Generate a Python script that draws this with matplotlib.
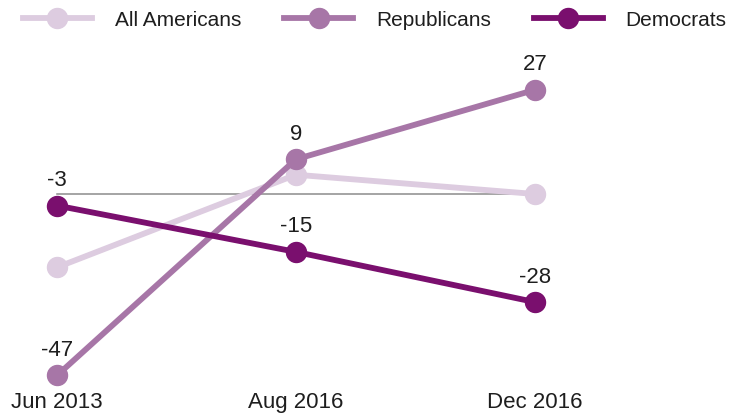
import matplotlib.pyplot as plt

plt.rcParams['font.family'] = ['Liberation Sans', 'DejaVu Sans']

# data
dates = ['Jun 2013', 'Aug 2016', 'Dec 2016']
all_americans = [-19, 5, 0]
republicans = [-47, 9, 27]
democrats = [-3, -15, -28]

series = [
    ('All Americans', all_americans, '#ddcce0', False),
    ('Republicans', republicans, '#a776a7', True),
    ('Democrats', democrats, '#7a0f6e', True),
]

fig = plt.figure(figsize=(7.46, 4.15), dpi=100)
ax = fig.add_axes([0, 0.065, 1, 0.935])

x = list(range(len(dates)))

# zero reference line
ax.plot([x[0], x[-1]], [0, 0], color='#8c8c8c', lw=1.1, zorder=1)

for i, (name, vals, color, labelled) in enumerate(series):
    ax.plot(x, vals, color=color, lw=4.2, marker='o', markersize=14.4,
            label=name, zorder=2 + i, clip_on=False)
    if labelled:
        for xi, v in zip(x, vals):
            ax.annotate(str(v), (xi, v), xytext=(0, 18), textcoords='offset points',
                        ha='center', va='center', fontsize=16, color='#1e1e1e')

ax.set_xlim(-57 / 239, 2 + 211 / 239)
ax.set_ylim(-50.26, 50.26)
ax.set_xticks(x)
ax.set_xticklabels(dates, fontsize=16, color='#1e1e1e')
ax.tick_params(axis='x', length=0, pad=3)
ax.set_yticks([])
for s in ax.spines.values():
    s.set_visible(False)

leg = fig.legend(loc='center left', bbox_to_anchor=(23 / 746, 1 - 20 / 415), ncol=3,
                 frameon=False, fontsize=15, handlelength=3.3, handletextpad=1.1,
                 columnspacing=2.07, borderpad=0, borderaxespad=0, markerscale=1)
for t in leg.get_texts():
    t.set_color('#1e1e1e')

fig.savefig('out.png', dpi=100)
